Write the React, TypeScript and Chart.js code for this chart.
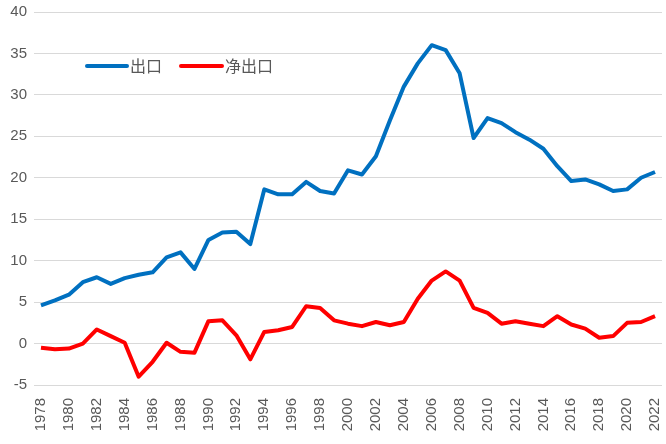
import React, { useEffect, useRef } from "react";
import { Chart, registerables } from "chart.js";

Chart.register(...registerables);

const years: string[] = [];
for (let y = 1978; y <= 2022; y++) years.push(String(y));

const exportsShare = [
  4.6, 5.2, 5.9, 7.4, 8.0, 7.2, 7.9, 8.3, 8.6, 10.4,
  11.0, 9.0, 12.5, 13.4, 13.5, 12.0, 18.6, 18.0, 18.0, 19.5,
  18.4, 18.1, 20.9, 20.4, 22.6, 26.9, 31.0, 33.8, 36.0, 35.4,
  32.6, 24.8, 27.2, 26.6, 25.5, 24.6, 23.5, 21.4, 19.6, 19.8,
  19.2, 18.4, 18.6, 20.0, 20.7,
];

const netExportsShare = [
  -0.5, -0.7, -0.6, 0.0, 1.7, 0.9, 0.1, -4.0, -2.2, 0.1,
  -1.0, -1.1, 2.7, 2.8, 1.0, -1.9, 1.4, 1.6, 2.0, 4.5,
  4.3, 2.8, 2.4, 2.1, 2.6, 2.2, 2.6, 5.4, 7.6, 8.7,
  7.6, 4.3, 3.7, 2.4, 2.7, 2.4, 2.1, 3.3, 2.3, 1.8,
  0.7, 0.9, 2.5, 2.6, 3.3,
];

const seriesNames = ["出口", "净出口"];
const seriesColors = ["#0070C0", "#FF0000"];

const yMin = -5;
const yMax = 40;
const yStep = 5;

const legendPlugin = {
  id: "insideLegend",
  afterDraw(chart: any) {
    const ctx = chart.ctx;
    ctx.save();
    ctx.font = '16px "Noto Sans CJK SC", sans-serif';
    ctx.textBaseline = "middle";
    const y = 66;
    const items = [
      { x0: 87, x1: 127, tx: 130 },
      { x0: 181, x1: 222, tx: 225 },
    ];
    chart.data.datasets.forEach((ds: any, i: number) => {
      const it = items[i];
      ctx.strokeStyle = ds.borderColor;
      ctx.lineWidth = 4;
      ctx.lineCap = "round";
      ctx.beginPath();
      ctx.moveTo(it.x0, y);
      ctx.lineTo(it.x1, y);
      ctx.stroke();
      ctx.fillStyle = "#595959";
      ctx.fillText(ds.label, it.tx, y);
    });
    ctx.restore();
  },
};

export default function App() {
  const ref = useRef<HTMLCanvasElement | null>(null);
  useEffect(() => {
    document.body.style.margin = "0";
    const canvas = ref.current;
    if (!canvas) return;
    const chart = new Chart(canvas, {
      type: "line",
      data: {
        labels: years,
        datasets: [
          {
            label: seriesNames[0],
            data: exportsShare,
            borderColor: seriesColors[0],
            backgroundColor: seriesColors[0],
            borderWidth: 4,
            pointRadius: 0,
            tension: 0,
            borderJoinStyle: "round",
          },
          {
            label: seriesNames[1],
            data: netExportsShare,
            borderColor: seriesColors[1],
            backgroundColor: seriesColors[1],
            borderWidth: 4,
            pointRadius: 0,
            tension: 0,
            borderJoinStyle: "round",
          },
        ],
      },
      options: {
        animation: false,
        responsive: false,
        maintainAspectRatio: false,
        layout: { padding: { top: 12, right: 4, left: 0, bottom: 0 } },
        plugins: {
          legend: { display: false },
          tooltip: { enabled: false },
        },
        scales: {
          x: {
            type: "category",
            offset: true,
            grid: { display: false, drawTicks: false },
            border: { display: false },
            ticks: {
              autoSkip: false,
              maxRotation: 90,
              minRotation: 90,
              padding: 13,
              color: "#595959",
              font: { family: '"Liberation Sans", sans-serif', size: 15 },
              callback: (_v: any, i: number) => (i % 2 === 0 ? years[i] : ""),
            },
            afterFit: (s: any) => {
              s.height = 59;
              s.paddingLeft = 0;
              s.paddingRight = 0;
              s.paddingTop = 0;
              s.paddingBottom = 0;
            },
          },
          y: {
            min: yMin,
            max: yMax,
            grid: { color: "#D9D9D9", lineWidth: 1, drawTicks: false },
            border: { display: false },
            ticks: {
              stepSize: yStep,
              padding: 7,
              color: "#595959",
              font: { family: '"Liberation Sans", sans-serif', size: 15 },
            },
            afterFit: (s: any) => {
              s.width = 34;
              s.paddingTop = 0;
              s.paddingBottom = 0;
            },
          },
        },
      },
      plugins: [legendPlugin],
    });
    return () => chart.destroy();
  }, []);
  return (
    <div style={{ width: 666, height: 444 }}>
      <canvas ref={ref} width={666} height={444} style={{ width: 666, height: 444 }} />
    </div>
  );
}
